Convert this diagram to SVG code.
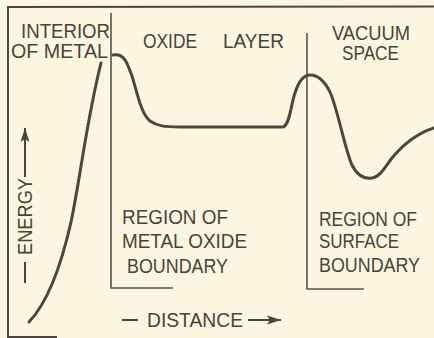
<svg xmlns="http://www.w3.org/2000/svg" width="434" height="338" viewBox="0 0 434 338">
  <defs>
    <marker id="arrow" markerUnits="userSpaceOnUse" markerWidth="15" markerHeight="10" refX="14" refY="5" orient="auto">
      <path d="M0,0.5 L14,5 L0,9.5 L3,5 z" fill="#4a423b"/>
    </marker>
    <style>
      .ink { fill: #4a423b; font-family: "Liberation Sans", Arial, sans-serif; font-size: 20px; }
      .frame { fill: none; stroke: #4f463e; stroke-width: 2; stroke-linecap: square; }
      .bound { fill: none; stroke: #5a524a; stroke-width: 1.6; }
      .curve { fill: none; stroke: #4e453d; stroke-width: 3; stroke-linecap: round; stroke-linejoin: round; }
      .axis { fill: none; stroke: #4a423b; stroke-width: 2; }
    </style>
  </defs>
  <rect width="434" height="338" fill="#fbf6df"/>

  <g id="frame">
    <path class="frame" d="M434,6.5 L8,7 L8,337 L56,337"/>
  </g>

  <g id="connectors">
    <path class="bound" d="M111,13 L111,288 L173,288"/>
    <path class="bound" d="M307,33 L307,289 L364,289"/>
    <path class="curve" d="M29,322 C48,302 62,262 71,222 C80,180 87,118 101,63"/>
    <path class="curve" d="M113,55 C124,53 127,62 132,76 C137,92 141,114 150,121 C157,126 165,127 180,127 L282,127 C290,127 291,103 295,93 C299,80 304,75 310,75 C318,75 324,80 330,92 C338,110 345,150 352,165 C358,177 365,179 372,178 C380,177 385,167 392,158 C402,146 415,134 434,128"/>
    <path class="axis" d="M25,283 L25,262"/>
    <path class="axis" d="M25,177 L25,128" marker-end="url(#arrow)"/>
    <path class="axis" d="M122,320 L138,320"/>
    <path class="axis" d="M248,320 L281,320" marker-end="url(#arrow)"/>
  </g>

  <g id="interior-of-metal">
    <text class="ink" x="21" y="38" textLength="89" lengthAdjust="spacingAndGlyphs">INTERIOR</text>
    <text class="ink" x="11" y="58" textLength="97" lengthAdjust="spacingAndGlyphs">OF METAL</text>
  </g>
  <g id="oxide-layer">
    <text class="ink" x="143" y="47.5" textLength="54" lengthAdjust="spacingAndGlyphs">OXIDE</text>
    <text class="ink" x="223" y="47.5" textLength="61" lengthAdjust="spacingAndGlyphs">LAYER</text>
  </g>
  <g id="vacuum-space">
    <text class="ink" x="332" y="40" textLength="78" lengthAdjust="spacingAndGlyphs">VACUUM</text>
    <text class="ink" x="342" y="60" textLength="57" lengthAdjust="spacingAndGlyphs">SPACE</text>
  </g>
  <g id="region-metal-oxide">
    <text class="ink" x="122" y="224" textLength="106" lengthAdjust="spacingAndGlyphs">REGION OF</text>
    <text class="ink" x="122" y="248" textLength="125" lengthAdjust="spacingAndGlyphs">METAL OXIDE</text>
    <text class="ink" x="127" y="273" textLength="101" lengthAdjust="spacingAndGlyphs">BOUNDARY</text>
  </g>
  <g id="region-surface">
    <text class="ink" x="319" y="226" textLength="98" lengthAdjust="spacingAndGlyphs">REGION OF</text>
    <text class="ink" x="319" y="248" textLength="80" lengthAdjust="spacingAndGlyphs">SURFACE</text>
    <text class="ink" x="319" y="272" textLength="101" lengthAdjust="spacingAndGlyphs">BOUNDARY</text>
  </g>
  <g id="energy-axis">
    <text class="ink" transform="translate(32,255) rotate(-90)" x="0" y="0" textLength="77" lengthAdjust="spacingAndGlyphs">ENERGY</text>
  </g>
  <g id="distance-axis">
    <text class="ink" x="147" y="327" textLength="96" lengthAdjust="spacingAndGlyphs">DISTANCE</text>
  </g>
</svg>
